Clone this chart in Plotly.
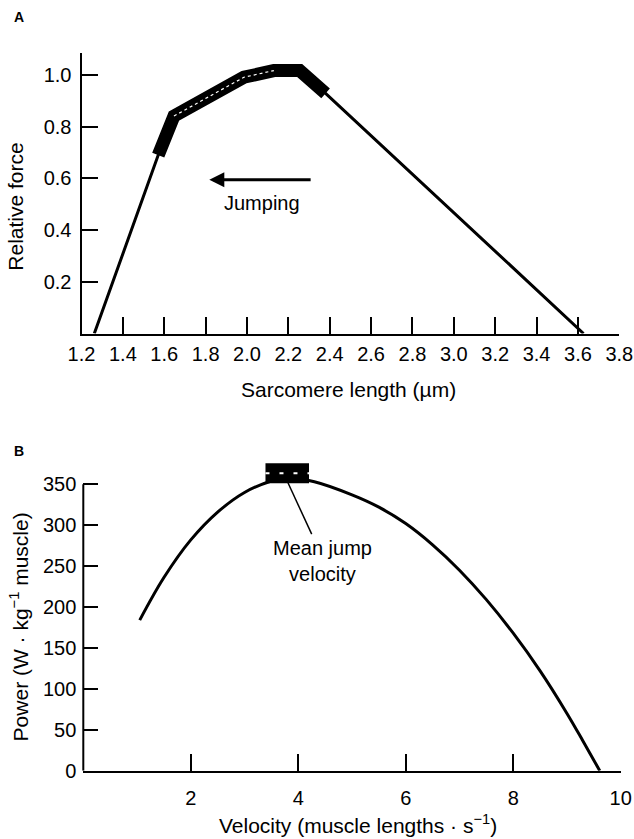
import plotly.graph_objects as go

# ---------------- Panel A data: force-length relation ----------------
sarc_len = [1.262, 1.571, 1.647, 1.985, 2.13, 2.255, 2.38, 3.627]
rel_force = [0.0, 0.69, 0.841, 0.991, 1.017, 1.017, 0.929, 0.0]
# operating (jumping) range highlighted with a thick band
jump_len = [1.571, 1.647, 1.985, 2.13, 2.255, 2.38]
jump_force = [0.69, 0.841, 0.991, 1.017, 1.017, 0.929]
# thin white centre line inside band
band_len = [1.647, 1.985, 2.13]
band_force = [0.841, 0.991, 1.017]

a_xticks = [1.2, 1.4, 1.6, 1.8, 2.0, 2.2, 2.4, 2.6, 2.8, 3.0, 3.2, 3.4, 3.6, 3.8]
a_yticks = [0.2, 0.4, 0.6, 0.8, 1.0]
arrow_from = (2.315, 0.595)
arrow_to = (1.818, 0.595)
jump_label_pos = (2.073, 0.504)

# ---------------- Panel B data: power-velocity relation ----------------
velocity = [1.05, 1.5, 2.0, 2.5, 3.0, 3.5, 3.8, 4.3, 5.0, 5.5, 6.0, 6.5, 7.0, 7.5, 8.0, 8.5, 9.0, 9.3, 9.61]
power = [184, 236, 282, 316, 340, 354, 358, 353, 337, 322, 302, 276, 245, 209, 168, 122, 70, 36, 0]
mean_jump_vel = [3.39, 4.20]
mean_jump_pow = [363.4, 363.4]
leader_vel = [3.80, 4.25]
leader_pow = [353, 289]
mean_label_pos = (4.45, 256)

b_xticks = [2, 4, 6, 8, 10]
b_yticks = [0, 50, 100, 150, 200, 250, 300, 350]

FONT = "Liberation Sans"
W, H = 634, 839

fig = go.Figure()

# Panel A
fig.add_trace(go.Scatter(x=sarc_len, y=rel_force, mode="lines",
                         line=dict(color="black", width=3),
                         xaxis="x", yaxis="y", showlegend=False, hoverinfo="skip"))
fig.add_trace(go.Scatter(x=jump_len, y=jump_force, mode="lines",
                         line=dict(color="black", width=13),
                         xaxis="x", yaxis="y", showlegend=False, hoverinfo="skip"))
fig.add_trace(go.Scatter(x=band_len, y=band_force, mode="lines",
                         line=dict(color="white", width=1.2, dash="3px,3px"),
                         xaxis="x", yaxis="y", showlegend=False, hoverinfo="skip"))

# Panel B
fig.add_trace(go.Scatter(x=velocity, y=power, mode="lines",
                         line=dict(color="black", width=3, shape="spline", smoothing=1.0),
                         xaxis="x2", yaxis="y2", showlegend=False, hoverinfo="skip"))
fig.add_trace(go.Scatter(x=mean_jump_vel, y=mean_jump_pow, mode="lines",
                         line=dict(color="black", width=20),
                         xaxis="x2", yaxis="y2", showlegend=False, hoverinfo="skip"))
fig.add_trace(go.Scatter(x=mean_jump_vel, y=mean_jump_pow, mode="lines",
                         line=dict(color="white", width=2, dash="4px,10px"),
                         xaxis="x2", yaxis="y2", showlegend=False, hoverinfo="skip"))
fig.add_trace(go.Scatter(x=leader_vel, y=leader_pow, mode="lines",
                         line=dict(color="black", width=1.5),
                         xaxis="x2", yaxis="y2", showlegend=False, hoverinfo="skip"))

tickfont = dict(family=FONT, size=20, color="black")
titlefont = dict(family=FONT, size=21, color="black")
labelfont = dict(family=FONT, size=20, color="black")

common_axis = dict(showgrid=False, zeroline=False, linecolor="black", linewidth=2,
                   ticks="inside", tickcolor="black", tickwidth=2, tickfont=tickfont,
                   automargin=False, ticklabeloverflow="allow")

fig.update_layout(
    width=W, height=H,
    margin=dict(l=0, r=0, t=0, b=0),
    paper_bgcolor="white", plot_bgcolor="white",
    font=dict(family=FONT, color="black"),
    xaxis=dict(domain=[81.5 / W, 619.3 / W], range=[1.2, 3.8], anchor="y",
               tickvals=a_xticks, tickformat=".1f", ticklen=17, showline=True,
               ticklabelstandoff=1, **common_axis),
    yaxis=dict(domain=[1 - 333.5 / H, 1 - 52.7 / H], range=[0, 1.086], anchor="x",
               tickvals=a_yticks, tickformat=".1f", ticklen=16, showline=True,
               ticklabelstandoff=4, **common_axis),
    xaxis2=dict(domain=[83.3 / W, 620.7 / W], range=[0, 10], anchor="y2",
                tickvals=b_xticks, ticklen=17, showline=True,
                ticklabelstandoff=8, **common_axis),
    yaxis2=dict(domain=[1 - 770.7 / H, 1 - 459.7 / H], range=[0, 380], anchor="x2",
                tickvals=b_yticks, ticklen=15, showline=False,
                ticklabelstandoff=6, **common_axis),
)

# y-axis line of panel B stops at the top tick
fig.add_shape(type="line", xref="x2 domain", yref="y2", x0=0, x1=0,
              y0=b_yticks[0], y1=b_yticks[-1], line=dict(color="black", width=2))

def pann(text, px, py, font, angle=0):
    return dict(text=text, x=px / W, y=1 - py / H, xref="paper", yref="paper",
                xanchor="center", yanchor="middle", textangle=angle,
                showarrow=False, font=font)

ann = [
    pann("<b>A</b>", 19, 16.7, dict(family=FONT, size=14, color="black")),
    pann("<b>B</b>", 19, 451, dict(family=FONT, size=14, color="black")),
    pann("Relative force", 15.3, 206.4, titlefont, -90),
    pann("Sarcomere length (µm)", 348, 389.4, titlefont),
    pann("Power (W · kg<sup>−1</sup> muscle)", 18.7, 626.7, titlefont, -90),
    pann("Velocity (muscle lengths · s<sup>−1</sup>)", 358, 824.3, titlefont),
]
# arrow + label in A
ann.append(dict(x=arrow_to[0], y=arrow_to[1], ax=arrow_from[0], ay=arrow_from[1],
                xref="x", yref="y", axref="x", ayref="y", text="", showarrow=True,
                arrowhead=2, arrowsize=1, arrowwidth=3, arrowcolor="black"))
ann.append(dict(text="Jumping", x=jump_label_pos[0], y=jump_label_pos[1], xref="x", yref="y",
                xanchor="center", yanchor="middle", showarrow=False, font=labelfont))
# label in B
ann.append(dict(text="Mean jump<br>velocity", x=mean_label_pos[0], y=mean_label_pos[1],
                xref="x2", yref="y2", xanchor="center", yanchor="middle",
                showarrow=False, font=labelfont))

fig.update_layout(annotations=ann)

fig.write_html("out.html", config={"displayModeBar": False},
               post_script="document.body.style.margin='0';document.body.style.overflow='hidden';")
